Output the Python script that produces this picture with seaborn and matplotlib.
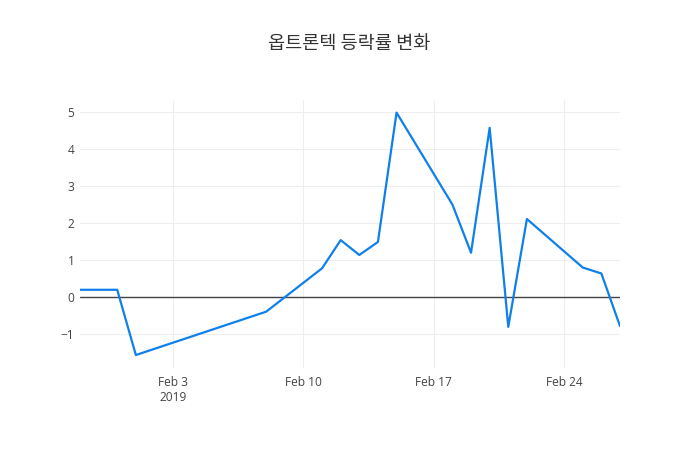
import numpy as np
import pandas as pd
import matplotlib
matplotlib.use("Agg")
import matplotlib.pyplot as plt
import matplotlib.dates as mdates
import seaborn as sns

# daily change rate (%)
dates = ["2019-01-29", "2019-01-30", "2019-01-31", "2019-02-01", "2019-02-08",
         "2019-02-11", "2019-02-12", "2019-02-13", "2019-02-14", "2019-02-15",
         "2019-02-18", "2019-02-19", "2019-02-20", "2019-02-21", "2019-02-22",
         "2019-02-25", "2019-02-26", "2019-02-27"]
change = [0.2, 0.2, 0.2, -1.56, -0.39,
          0.78, 1.54, 1.14, 1.49, 4.98,
          2.5, 1.2, 4.57, -0.8, 2.11,
          0.8, 0.64, -0.78]

title = "옵트론텍 등락률 변화"
xtick_dates = ["2019-02-03", "2019-02-10", "2019-02-17", "2019-02-24"]
xtick_labels = ["Feb 3\n2019", "Feb 10", "Feb 17", "Feb 24"]
ytick_vals = [-1, 0, 1, 2, 3, 4, 5]

df = pd.DataFrame({"date": pd.to_datetime(dates), "change": change})

sns.set_style("white")
plt.rcParams["font.family"] = ["Open Sans", "Noto Sans CJK KR", "DejaVu Sans"]

fig = plt.figure(figsize=(7, 4.5), dpi=100)
ax = fig.add_axes([80 / 700, 1 - 368 / 450, 540 / 700, 268 / 450])

ax.axhline(0, color="#444444", lw=1, zorder=1)
sns.lineplot(data=df, x="date", y="change", ax=ax, color="#0f80ea", lw=1.6, zorder=3)

ax.set_xlim(pd.Timestamp("2019-01-29"), pd.Timestamp("2019-02-27"))
ax.set_ylim(-1.91, 5.32)

ax.set_xticks(pd.to_datetime(xtick_dates))
ax.set_xticklabels(xtick_labels)
ax.set_yticks(ytick_vals)
ax.set_yticklabels([str(v).replace("-", "\u2212") for v in ytick_vals])

ax.grid(True, color="#eeeeee", lw=0.8)
ax.set_axisbelow(True)
for s in ax.spines.values():
    s.set_visible(False)
ax.tick_params(axis="both", length=0, labelsize=8.6, labelcolor="#444444")
ax.tick_params(axis="x", pad=6)
ax.tick_params(axis="y", pad=4)
ax.set_xlabel("")
ax.set_ylabel("")

fig.text(349 / 700, 1 - 44 / 450, title, ha="center", va="center",
         fontsize=13.4, color="#333333",
         family=["Noto Sans CJK KR", "DejaVu Sans"])

fig.savefig("out.png", dpi=100)
